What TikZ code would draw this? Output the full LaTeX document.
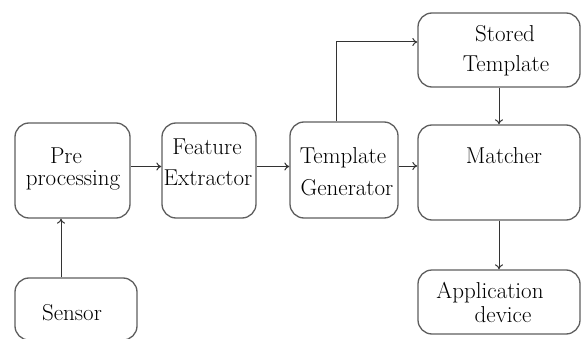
\documentclass[tikz,border=0pt]{standalone}
\usetikzlibrary{arrows.meta}
\definecolor{boxline}{HTML}{5E5E5E}
\definecolor{arrline}{HTML}{333333}
\tikzset{
  blk/.style={draw=boxline, line width=1.3pt, rounded corners=14pt, rectangle, inner sep=0pt},
  txt/.style={anchor=base, inner sep=0pt, font=\fontsize{23}{26}\selectfont, text=black},
  arr/.style={draw=arrline, line width=1pt, -{To[length=5pt,width=8pt]}}
}
\begin{document}
\begin{tikzpicture}[x=1pt,y=1pt]
\useasboundingbox (0,0) rectangle (581,338);
% boxes
\node[blk, minimum width=115pt, minimum height=95pt] (pre) at (72.5,167.5) {};
\node[blk, minimum width=94pt, minimum height=95pt] (feat) at (209,167.5) {};
\node[blk, minimum width=108pt, minimum height=96pt] (tgen) at (344,168) {};
\node[blk, minimum width=162pt, minimum height=95pt] (match) at (499,165.5) {};
\node[blk, minimum width=162pt, minimum height=74pt] (stored) at (499,288) {};
\node[blk, minimum width=162pt, minimum height=64pt] (app) at (499,36) {};
\node[blk, minimum width=122pt, minimum height=62pt] (sensor) at (76,29) {};
% texts
\node[txt] (t1) at (66,175) {Pre};
\node[txt] (t2) at (73,153) {processing};
\node[txt] (t3) at (207,183) {Feature};
\node[txt] (t4) at (208,153) {Extractor};
\node[txt] (t5) at (343,175) {Template};
\node[txt] (t6) at (347,143) {Generator};
\node[txt] (t7) at (505,296) {Stored};
\node[txt] (t8) at (506,266) {Template};
\node[txt] (t9) at (504,175) {Matcher};
\node[txt] (t10) at (72,18) {Sensor};
\node[txt] (t11) at (490,40) {Application};
\node[txt] (t12) at (503,16) {device};
% connectors
\draw[arr] ([xshift=-15pt]sensor.north) -- ([xshift=-15pt]sensor.north |- pre.south);
\draw[arr] ([yshift=4pt]pre.east) -- ([yshift=4pt]pre.east -| feat.west);
\draw[arr] ([yshift=4pt]feat.east) -- ([yshift=4pt]feat.east -| tgen.west);
\draw[arr] ([yshift=4pt]tgen.east) -- ([yshift=4pt]tgen.east -| match.west);
\draw[arr] ([xshift=-8pt]tgen.north) |- ([yshift=8pt]stored.west);
\draw[arr] (stored.south) -- (match.north);
\draw[arr] (match.south) -- (app.north);
\end{tikzpicture}
\end{document}
